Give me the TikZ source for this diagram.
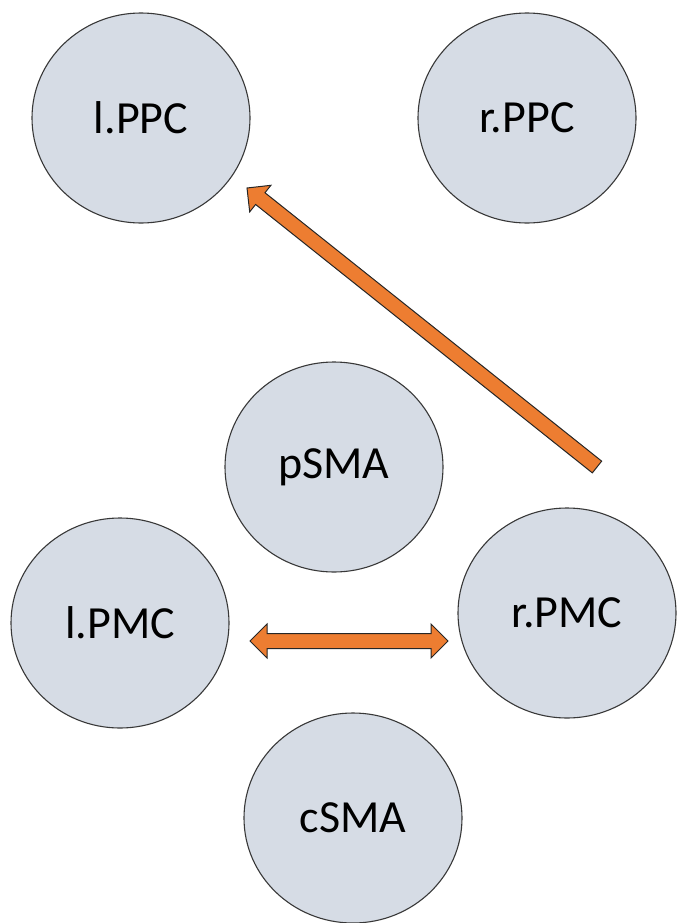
\documentclass[tikz,border=0pt]{standalone}
\usepackage{fontspec}
\setmainfont{Carlito}
\usetikzlibrary{calc,shapes.geometric}
\definecolor{areafill}{HTML}{D6DCE5}
\definecolor{arealine}{HTML}{383838}
\definecolor{flowfill}{HTML}{ED7D31}
\tikzset{
  area/.style={ellipse,draw=arealine,line width=1.1bp,fill=areafill,
    minimum width=218bp,minimum height=210bp,inner sep=0pt,
    font=\fontsize{46bp}{46bp}\selectfont},
  flow/.style={draw=black!85,line width=1bp,fill=flowfill,line join=miter}
}
\begin{document}
\begin{tikzpicture}[x=1bp,y=-1bp]
\useasboundingbox (0,0) rectangle (677,923);
\pgfmathsetlengthmacro{\sw}{7.5bp}
\pgfmathsetlengthmacro{\hw}{17bp}
\pgfmathsetlengthmacro{\hl}{17bp}
\node[area] (lppc) at (141,118) {l.PPC};
\node[area] (rppc) at (527,118) {r.PPC};
\node[area] (psma) at (334,467) {pSMA};
\node[area] (lpmc) at (120,623) {l.PMC};
\node[area] (rpmc) at (567,613) {r.PMC};
\node[area] (csma) at (353,818) {cSMA};
% r.PMC -> l.PPC
\coordinate (fromR) at (597,467);
\coordinate (toL) at (247,188);
\coordinate (neck) at ($(toL)!\hl!(fromR)$);
\draw[flow] ($(fromR)!\sw!90:(toL)$) -- ($(neck)!\sw!-90:(fromR)$)
  -- ($(neck)!\hw!-90:(fromR)$) -- (toL) -- ($(neck)!\hw!90:(fromR)$)
  -- ($(neck)!\sw!90:(fromR)$) -- ($(fromR)!\sw!-90:(toL)$) -- cycle;
% l.PMC <-> r.PMC
\coordinate (pmcL) at (250,641);
\coordinate (pmcR) at (448,641);
\coordinate (neckL) at ($(pmcL)!\hl!(pmcR)$);
\coordinate (neckR) at ($(pmcR)!\hl!(pmcL)$);
\draw[flow] (pmcL) -- ($(neckL)!\hw!90:(pmcR)$) -- ($(neckL)!\sw!90:(pmcR)$)
  -- ($(neckR)!\sw!-90:(pmcL)$) -- ($(neckR)!\hw!-90:(pmcL)$) -- (pmcR)
  -- ($(neckR)!\hw!90:(pmcL)$) -- ($(neckR)!\sw!90:(pmcL)$)
  -- ($(neckL)!\sw!-90:(pmcR)$) -- ($(neckL)!\hw!-90:(pmcR)$) -- cycle;
\end{tikzpicture}
\end{document}
